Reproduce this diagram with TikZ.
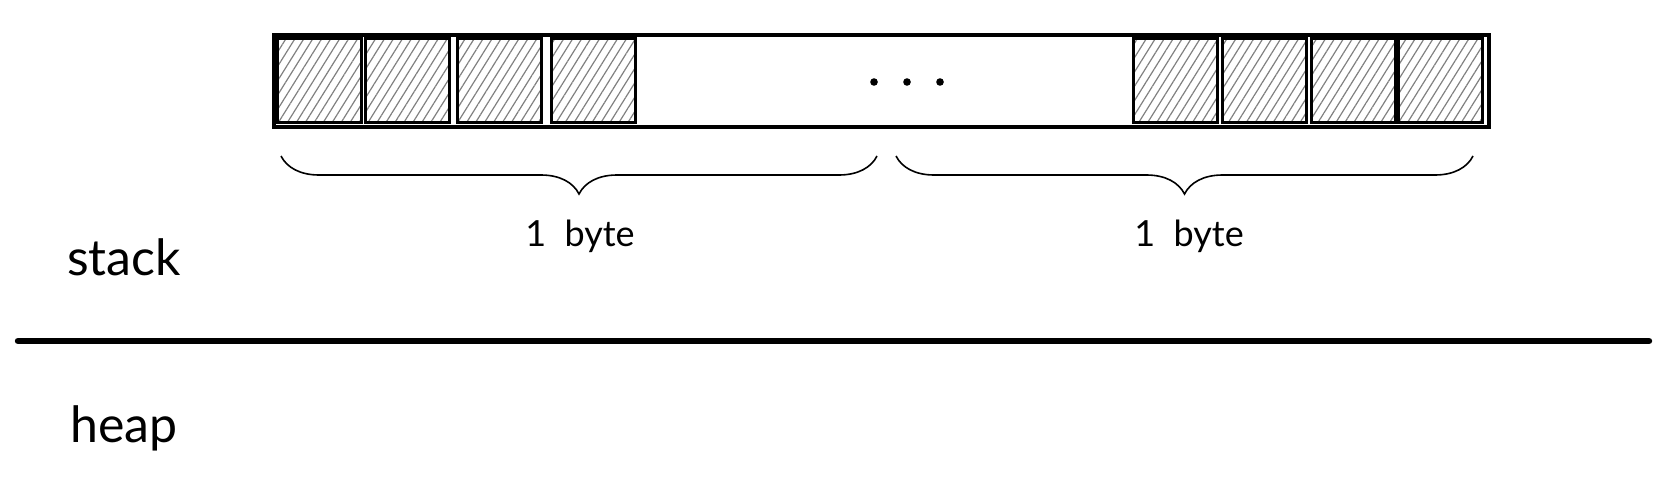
\documentclass[tikz,border=0pt]{standalone}
\usepackage{fontspec}
\setmainfont{Lato}
\usetikzlibrary{patterns.meta,decorations.pathreplacing}

\begin{document}
\begin{tikzpicture}[x=0.5pt, y=-0.5pt,
  bar/.style={rectangle, draw, line width=1.6pt, minimum width=607.5pt,
              minimum height=46pt, inner sep=0pt},
  cell/.style={rectangle, draw, line width=1.5pt, minimum width=42pt,
               minimum height=42pt, inner sep=0pt,
               pattern={Lines[angle=58, distance=3.8pt, line width=0.6pt]},
               pattern color=gray},
  dot/.style={circle, fill, inner sep=0pt, minimum size=3.8pt},
  brace/.style={decorate, decoration={brace, mirror, amplitude=19pt},
                line width=0.8pt},
  lbl/.style={font=\fontsize{18}{22}\selectfont},
  region/.style={font=\fontsize{25}{29}\selectfont}
]
\useasboundingbox (0,0) rectangle (1668,482);

% ── Byte bar ──────────────────────────
\node[bar] (bar) at (881.5, 81) {};

\foreach \x [count=\i] in {319.5, 407.5, 499, 593, 1175.5, 1264.5, 1353.5, 1440.5} {
  \node[cell] (c\i) at (\x, 80) {};
}

\foreach \x [count=\i] in {874, 907, 940} {
  \node[dot] (d\i) at (\x, 82) {};
}

% ── Braces ────────────────────────────
\coordinate (bl1) at (281, 156);
\coordinate (br1) at (877, 156);
\coordinate (bl2) at (896, 156);
\coordinate (br2) at (1473, 156);
\draw[brace] (bl1) -- (br1);
\draw[brace] (bl2) -- (br2);

\node[lbl] (byteA) at (580, 236) {1 \ byte};
\node[lbl] (byteB) at (1189, 236) {1 \ byte};

% ── Stack / heap ──────────────────────
\node[region] (stack) at (124, 257) {stack};
\node[region] (heap) at (124, 428) {heap};

\coordinate (sepL) at (18, 341);
\coordinate (sepR) at (1649, 341);
\draw[line width=3.2pt, line cap=round] (sepL) -- (sepR);

\end{tikzpicture}
\end{document}
